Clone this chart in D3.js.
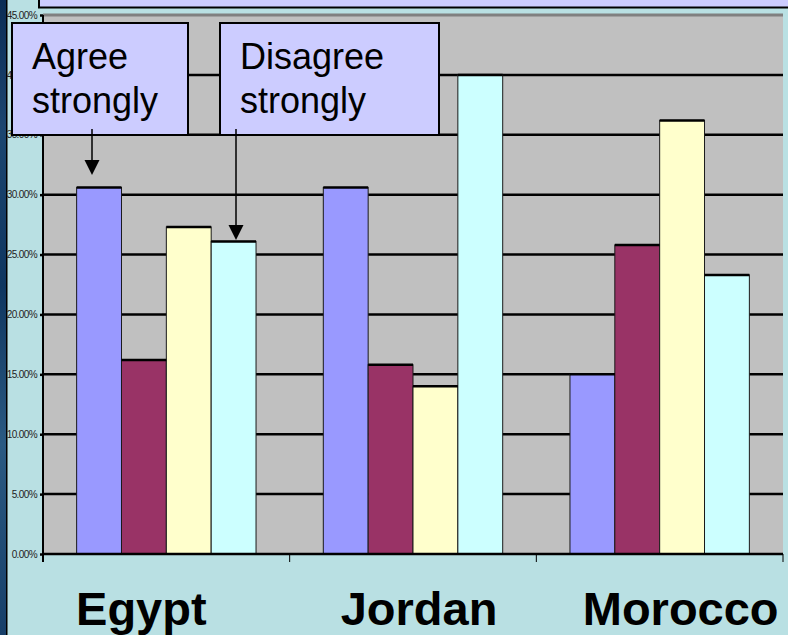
<!DOCTYPE html>
<html>
<head>
<meta charset="utf-8">
<script src="https://cdn.jsdelivr.net/npm/d3@7"></script>
<style>
  html, body { margin: 0; padding: 0; background: #b9e0e3; }
  svg { display: block; }
</style>
</head>
<body>
<svg id="chart" width="788" height="635"></svg>
<script>
// Survey shares by country (percent of respondents)
const categories = ["Egypt", "Jordan", "Morocco"];
const seriesNames = ["Agree strongly", "Agree somewhat", "Disagree somewhat", "Disagree strongly"];
const agreeStrongly    = [30.6, 30.6, 15.0];
const agreeSomewhat    = [16.2, 15.8, 25.8];
const disagreeSomewhat = [27.3, 14.0, 36.2];
const disagreeStrongly = [26.1, 40.0, 23.3];
const tickValues = [0, 5, 10, 15, 20, 25, 30, 35, 40, 45];
const seriesValues = [agreeStrongly, agreeSomewhat, disagreeSomewhat, disagreeStrongly];
const seriesColors = ["#9999ff", "#993366", "#ffffcc", "#ccffff"];

const W = 788, H = 635;
const plot = { left: 43, right: 783, top: 15, bottom: 554 };

const svg = d3.select("#chart");

// Page background and the textured blue edge on the left
const defs = svg.append("defs");
const grad = defs.append("linearGradient").attr("id", "edge").attr("x1", 0).attr("y1", 0).attr("x2", 0).attr("y2", 1);
[["0%", "#0b2c55"], ["20%", "#1c4670"], ["45%", "#0f3660"], ["70%", "#2b5a82"], ["100%", "#173f69"]]
  .forEach(([o, c]) => grad.append("stop").attr("offset", o).attr("stop-color", c));

svg.append("rect").attr("width", W).attr("height", H).attr("fill", "#b9e0e3");
svg.append("rect").attr("x", 0).attr("y", 0).attr("width", 6).attr("height", H).attr("fill", "url(#edge)");
svg.append("rect").attr("x", 6).attr("y", 0).attr("width", 1.5).attr("height", H).attr("fill", "#000");

// Title panel running off the top edge
svg.append("rect").attr("x", 39).attr("y", -10).attr("width", 760).attr("height", 17.5)
  .attr("fill", "#ccccff").attr("stroke", "#000").attr("stroke-width", 2);

// Scales
const y = d3.scaleLinear().domain([0, 45]).range([plot.bottom, plot.top]);
const x0 = d3.scaleBand().domain(categories).range([plot.left, plot.right]);
const gap = x0.bandwidth() * 1.5 / 5.5;
const x1 = d3.scaleBand().domain(seriesNames).range([gap / 2, x0.bandwidth() - gap / 2]);

// Plot area
svg.append("rect").attr("x", plot.left).attr("y", plot.top)
  .attr("width", plot.right - plot.left).attr("height", plot.bottom - plot.top)
  .attr("fill", "#c0c0c0");
svg.append("line").attr("x1", plot.left).attr("x2", plot.right)
  .attr("y1", plot.top).attr("y2", plot.top)
  .attr("stroke", "#808080").attr("stroke-width", 3);

// Gridlines
svg.append("g").selectAll("line")
  .data(tickValues.filter(v => v > 0 && v < 45))
  .join("line")
  .attr("x1", plot.left).attr("x2", plot.right)
  .attr("y1", d => y(d)).attr("y2", d => y(d))
  .attr("stroke", "#000").attr("stroke-width", 2.5);

// Bars
const rows = categories.map((c, i) => ({
  category: c,
  values: seriesNames.map((s, j) => ({ series: s, color: seriesColors[j], value: seriesValues[j][i] }))
}));

const groups = svg.append("g").selectAll("g")
  .data(rows).join("g")
  .attr("transform", d => `translate(${x0(d.category)},0)`);

groups.selectAll("rect")
  .data(d => d.values).join("rect")
  .attr("x", d => x1(d.series))
  .attr("y", d => y(d.value))
  .attr("width", x1.bandwidth())
  .attr("height", d => y(0) - y(d.value))
  .attr("fill", d => d.color)
  .attr("stroke", "#1a1a1a").attr("stroke-width", 1);

groups.selectAll("line.top")
  .data(d => d.values).join("line")
  .attr("class", "top")
  .attr("x1", d => x1(d.series)).attr("x2", d => x1(d.series) + x1.bandwidth())
  .attr("y1", d => y(d.value)).attr("y2", d => y(d.value))
  .attr("stroke", "#000").attr("stroke-width", 2.5);

// Value axis
const yAxis = svg.append("g")
  .attr("transform", `translate(${plot.left},0)`)
  .call(d3.axisLeft(y).tickValues(tickValues).tickSize(3).tickPadding(3)
    .tickFormat(d => d3.format(".2f")(d) + "%"));
yAxis.select(".domain").remove();
yAxis.selectAll(".tick line").attr("stroke", "#000").attr("stroke-width", 2.5);
yAxis.selectAll(".tick text")
  .attr("fill", "#222")
  .style("font-family", "'Liberation Sans Narrow', 'Arial Narrow', 'Liberation Sans', Arial, sans-serif")
  .style("font-size", "10px")
  .style("letter-spacing", "-0.6px");
svg.append("line").attr("x1", plot.left).attr("x2", plot.left)
  .attr("y1", plot.top).attr("y2", plot.bottom + 8)
  .attr("stroke", "#000").attr("stroke-width", 2);

// Category axis
svg.append("line").attr("x1", plot.left).attr("x2", plot.right)
  .attr("y1", plot.bottom).attr("y2", plot.bottom)
  .attr("stroke", "#000").attr("stroke-width", 2.5);
svg.append("g").selectAll("line")
  .data(categories.map(c => x0(c)).concat([plot.right]))
  .join("line")
  .attr("x1", d => d).attr("x2", d => d)
  .attr("y1", plot.bottom).attr("y2", plot.bottom + 8)
  .attr("stroke", "#000").attr("stroke-width", 1);

// Category names
const labelShift = [-25, 6, 21];
svg.append("g").selectAll("text")
  .data(categories).join("text")
  .attr("x", (d, i) => x0(d) + x0.bandwidth() / 2 + labelShift[i])
  .attr("y", 625)
  .attr("text-anchor", "middle")
  .style("font-family", "'Liberation Sans', Arial, sans-serif")
  .style("font-weight", "bold")
  .style("font-size", "47px")
  .attr("fill", "#000")
  .text(d => d);

// Callouts pointing at the first and last series
const callouts = [
  { lines: ["Agree", "strongly"], box: [12, 23, 176, 112], arrowX: 92, arrowEnd: 175 },
  { lines: ["Disagree", "strongly"], box: [220, 23, 219, 112], arrowX: 236, arrowEnd: 240 }
];
const co = svg.append("g").selectAll("g").data(callouts).join("g");
co.append("line")
  .attr("x1", d => d.arrowX).attr("x2", d => d.arrowX)
  .attr("y1", d => d.box[1] + d.box[3] - 6).attr("y2", d => d.arrowEnd - 12)
  .attr("stroke", "#000").attr("stroke-width", 1.5);
co.append("path")
  .attr("d", d => `M${d.arrowX - 7.5},${d.arrowEnd - 15} L${d.arrowX + 7.5},${d.arrowEnd - 15} L${d.arrowX},${d.arrowEnd} Z`)
  .attr("fill", "#000");
co.append("rect")
  .attr("x", d => d.box[0]).attr("y", d => d.box[1])
  .attr("width", d => d.box[2]).attr("height", d => d.box[3])
  .attr("fill", "#ccccff").attr("stroke", "#000").attr("stroke-width", 2);
co.append("line")
  .attr("x1", d => d.arrowX).attr("x2", d => d.arrowX)
  .attr("y1", d => d.box[1] + d.box[3] - 6).attr("y2", d => d.box[1] + d.box[3])
  .attr("stroke", "#000").attr("stroke-width", 1.5);
co.each(function(d) {
  const t = d3.select(this).append("text")
    .style("font-family", "'Liberation Sans', Arial, sans-serif")
    .style("font-size", "36px")
    .attr("fill", "#000");
  d.lines.forEach((ln, i) => {
    t.append("tspan").attr("x", d.box[0] + 20).attr("y", 69 + i * 44).text(ln);
  });
});
</script>
</body>
</html>
